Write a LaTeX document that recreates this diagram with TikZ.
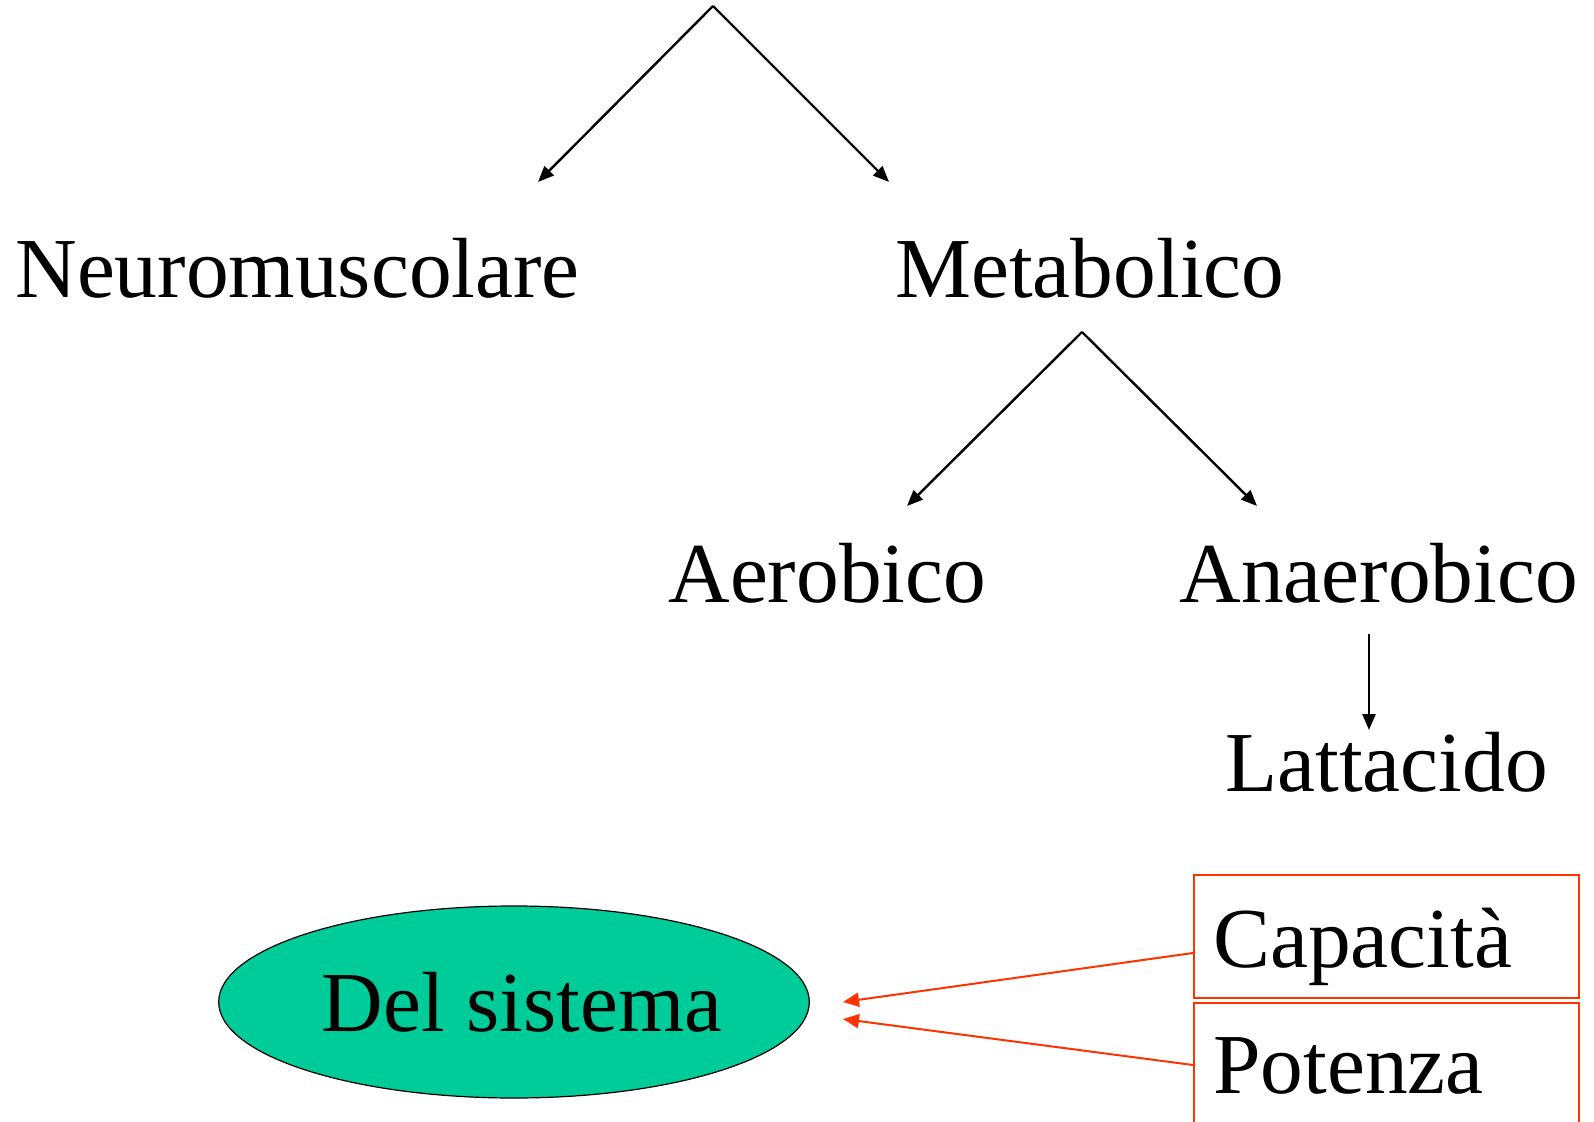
\documentclass[tikz,border=0pt]{standalone}
\usepackage{fontspec}
\setmainfont{Liberation Serif}
\usetikzlibrary{arrows.meta,shapes.geometric}
\definecolor{sysgreen}{RGB}{0,204,153}
\definecolor{boxred}{RGB}{255,51,0}
\tikzset{
  label/.style={inner sep=0pt, anchor=base west, font=\fontsize{42.7pt}{50pt}\selectfont},
  branch/.style={line width=1.2pt, -{Triangle[length=8pt,width=6.5pt]}},
  redlink/.style={draw=boxred, line width=1pt, -{Triangle[length=8pt,width=7pt]}},
  redbox/.style={draw=boxred, line width=1pt, rectangle, inner sep=0pt,
    minimum width=192.5pt, minimum height=61.5pt, anchor=north west},
  sysnode/.style={ellipse, draw, line width=0.6pt, fill=sysgreen, inner sep=0pt,
    minimum width=289pt, minimum height=96pt, font=\fontsize{42.7pt}{50pt}\selectfont}
}
\begin{document}
\begin{tikzpicture}[x=0.5pt,y=-0.5pt]
  \useasboundingbox (0,0) rectangle (1594,1122);

  % tree labels
  \node[label] (neuro) at (15,298) {Neuromuscolare};
  \node[label] (meta) at (895,298) {Metabolico};
  \node[label] (aero) at (668,602) {Aerobico};
  \node[label] (anaero) at (1179,602) {Anaerobico};
  \node[label] (latt) at (1225,791) {Lattacido};

  % branching points and arrow ends
  \coordinate (top) at (713,6);
  \coordinate (neuroTip) at (538,182);
  \coordinate (metaTip) at (889,182);
  \coordinate (metaFork) at (1082,332);
  \coordinate (aeroTip) at (907,506);
  \coordinate (anaeroTip) at (1257,506);
  \coordinate (anaeroFoot) at (1369,634);
  \coordinate (lattTip) at (1369,730);

  \draw[branch] (top) -- (neuroTip);
  \draw[branch] (top) -- (metaTip);
  \draw[branch] (metaFork) -- (aeroTip);
  \draw[branch] (metaFork) -- (anaeroTip);
  \draw[branch] (anaeroFoot) -- (lattTip);

  % system ellipse
  \node[sysnode] (sys) at (514,1002) {\hspace*{8.4pt}Del sistema};

  % red boxes
  \node[redbox] (capbox) at (1193,874) {};
  \node[redbox] (potbox) at (1193,1002) {};
  \node[label] (cap) at (1213,967) {Capacità};
  \node[label] (pot) at (1213,1093) {Potenza};

  \coordinate (capStart) at (1193,953);
  \coordinate (potStart) at (1193,1065);
  \coordinate (capTip) at (843,1002);
  \coordinate (potTip) at (843,1019);
  \draw[redlink] (capStart) -- (capTip);
  \draw[redlink] (potStart) -- (potTip);
\end{tikzpicture}
\end{document}
